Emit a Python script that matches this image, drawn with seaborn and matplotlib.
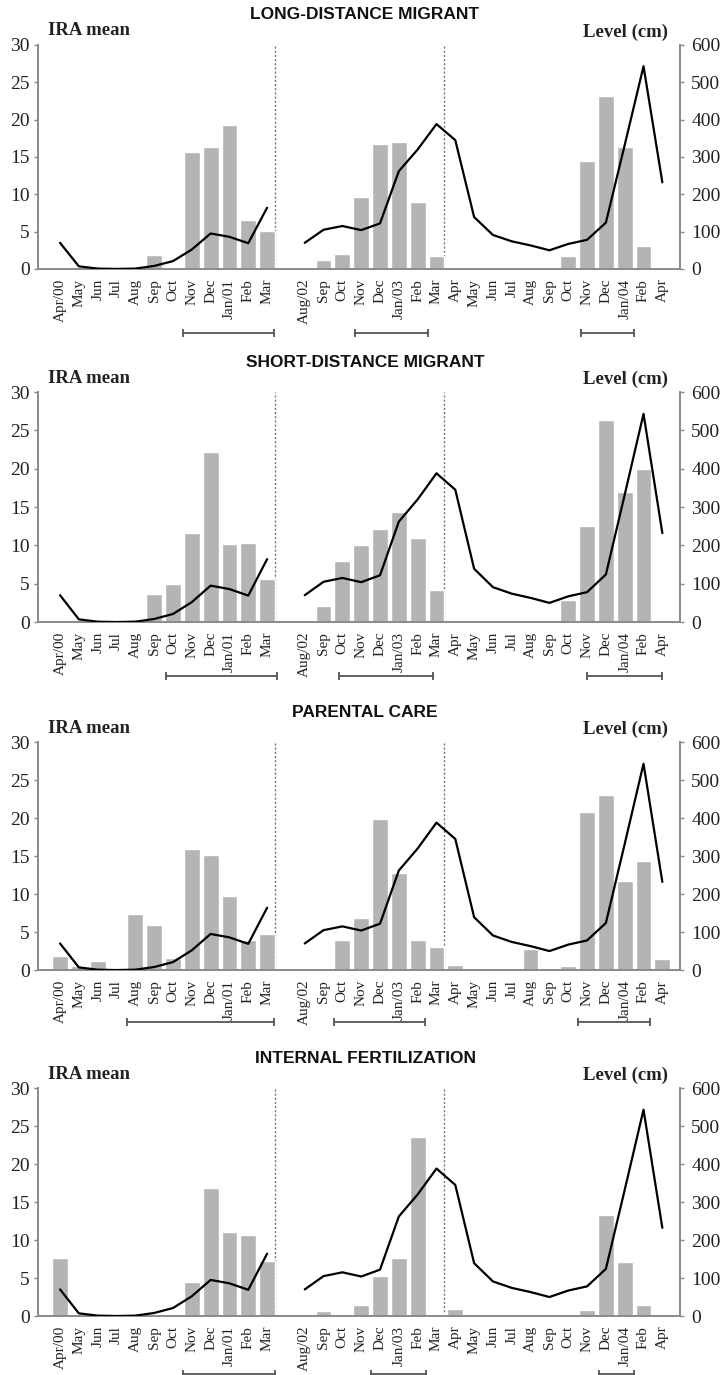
import numpy as np
import pandas as pd
import matplotlib
matplotlib.use("Agg")
import matplotlib.pyplot as plt
import seaborn as sns
from matplotlib.transforms import blended_transform_factory

nan = np.nan

# ---------------- data ----------------
months = ["Apr/00", "May", "Jun", "Jul", "Aug", "Sep", "Oct", "Nov", "Dec", "Jan/01", "Feb", "Mar",
          "",
          "Aug/02", "Sep", "Oct", "Nov", "Dec", "Jan/03", "Feb", "Mar", "Apr", "May", "Jun", "Jul",
          "Aug", "Sep", "Oct", "Nov", "Dec", "Jan/04", "Feb", "Apr"]
segment = [1] * 12 + [0] + [2] * 20

level_cm = [70, 7, 1, 0, 1, 8, 21, 52, 95, 86, 69, 164,
            nan,
            70, 105, 115, 104, 122, 262, 320, 388, 345, 139, 91, 74, 63, 50, 67, 78, 124, 332, 543, 232]

long_distance = [0.2, 0.3, 0, 0, 0, 1.9, 0.1, 15.6, 16.4, 19.3, 6.5, 5.1,
                 nan,
                 0, 1.2, 2.0, 9.7, 16.8, 17.0, 9.0, 1.8, 0.3, 0, 0, 0, 0, 0, 1.7, 14.4, 23.2, 16.4, 3.1, 0]
short_distance = [0, 0, 0, 0, 0, 3.7, 5.0, 11.6, 22.2, 10.2, 10.3, 5.6,
                  nan,
                  0, 2.1, 8.0, 10.0, 12.1, 14.3, 11.0, 4.2, 0, 0.2, 0, 0, 0, 0, 2.9, 12.5, 26.3, 17.0, 19.9, 0]
parental_care = [1.8, 0.6, 1.2, 0, 7.4, 5.9, 1.6, 15.9, 15.2, 9.8, 3.9, 4.7,
                 nan,
                 0, 0.3, 4.0, 6.8, 19.9, 12.8, 4.0, 3.0, 0.7, 0, 0, 0, 2.8, 0, 0.5, 20.8, 23.0, 11.7, 14.4, 1.4]
internal_fert = [7.6, 0, 0, 0, 0, 0, 0.2, 4.5, 16.8, 11.0, 10.7, 7.2,
                 nan,
                 0, 0.7, 0, 1.4, 5.2, 7.6, 23.5, 0.2, 0.9, 0, 0, 0, 0, 0, 0, 0.8, 13.3, 7.1, 1.5, 0]

titles = ["LONG-DISTANCE MIGRANT", "SHORT-DISTANCE MIGRANT", "PARENTAL CARE", "INTERNAL FERTILIZATION"]
series = [long_distance, short_distance, parental_care, internal_fert]

# periods marked under the axis (in category-index units)
periods = [
    [(6.54, 11.37), (15.65, 19.54), (27.67, 30.49)],
    [(5.64, 11.52), (14.84, 19.82), (28.0, 32.0)],
    [(3.54, 11.37), (14.56, 19.39), (27.52, 31.35)],
    [(6.52, 11.42), (16.52, 19.45), (28.63, 30.49)],
]
break_after = ["Mar", "Mar"]  # dotted separators after these bars
break_idx = [11, 20]

# ---------------- style ----------------
sns.set_style("white")
plt.rcParams["font.family"] = ["Liberation Serif", "DejaVu Serif"]

BAR = "#b4b4b4"
SPINE = "#8a8a8a"
BW = 0.84

fig = plt.figure(figsize=(7.2, 13.75), dpi=100)
rects = [
    (0.0528, 0.8044, 0.8917, 0.1629),
    (0.0528, 0.5476, 0.8917, 0.1673),
    (0.0528, 0.2945, 0.8917, 0.1658),
    (0.0528, 0.0429, 0.8917, 0.1658),
]
bracket_y = [-0.285, -0.235, -0.23, -0.255]

pos = np.arange(len(months))
df_line = pd.DataFrame({"pos": pos, "level": level_cm, "segment": segment}).dropna()

for k, (title, vals) in enumerate(zip(titles, series)):
    ax = fig.add_axes(rects[k])
    df = pd.DataFrame({"pos": pos, "ira": vals}).dropna()
    sns.barplot(data=df, x="pos", y="ira", native_scale=True, color=BAR, saturation=1,
                width=BW, errorbar=None, ax=ax, zorder=2)
    ax2 = ax.twinx()
    sns.lineplot(data=df_line, x="pos", y="level", units="segment", estimator=None,
                 color="black", lw=1.6, sort=False, ax=ax2, zorder=3)

    ax.set_xlim(-1.17, 32.94)
    ax.set_ylim(0, 30)
    ax2.set_ylim(0, 600)
    ax.set_yticks(np.arange(0, 31, 5))
    ax2.set_yticks(np.arange(0, 601, 100))

    tick_pos = [p for p, m in zip(pos, months) if m != ""]
    tick_lab = [m for m in months if m != ""]
    ax.set_xticks(tick_pos)
    ax.set_xticklabels(tick_lab, rotation=90, fontsize=11, color="#222222")
    ax.set_xlabel("")
    ax.set_ylabel("")
    ax2.set_ylabel("")
    ax2.set_xlabel("")

    ax.tick_params(axis="x", length=0, pad=7)
    ax.tick_params(axis="y", length=3, width=1, color=SPINE, labelsize=14, pad=3, labelcolor="#222222")
    ax2.tick_params(axis="y", length=3, width=1, color=SPINE, labelsize=14, pad=5, labelcolor="#222222")

    for s in ["top", "right"]:
        ax.spines[s].set_visible(False)
    for s in ["top", "left", "bottom"]:
        ax2.spines[s].set_visible(False)
    for sp in [ax.spines["left"], ax.spines["bottom"], ax2.spines["right"]]:
        sp.set_color(SPINE)
        sp.set_linewidth(1.4)
    ax.grid(False)
    ax2.grid(False)

    for bi in break_idx:
        ax.axvline(bi + BW / 2, color="#777777", lw=1, ls=(0, (1.5, 1.5)), zorder=1)

    trans = blended_transform_factory(ax.transData, ax.transAxes)
    for (x0, x1) in periods[k]:
        ax.plot([x0, x1], [bracket_y[k], bracket_y[k]], transform=trans, clip_on=False,
                color="#555555", lw=1.3, marker="|", markersize=6, mew=1.3)

    ax.annotate(title, xy=(0.5, 1), xycoords="axes fraction", xytext=(6, 30),
                textcoords="offset pixels", ha="center", va="center",
                fontfamily="Liberation Sans", fontweight="bold", fontsize=12.5, color="#111111")
    ax.annotate("IRA mean", xy=(0, 1), xycoords="axes fraction", xytext=(10, 14),
                textcoords="offset pixels", ha="left", va="center",
                fontweight="bold", fontsize=13.5, color="#222222")
    ax.annotate("Level (cm)", xy=(1, 1), xycoords="axes fraction", xytext=(-12, 13),
                textcoords="offset pixels", ha="right", va="center",
                fontweight="bold", fontsize=13.5, color="#222222")

fig.savefig("out.png", dpi=100)
